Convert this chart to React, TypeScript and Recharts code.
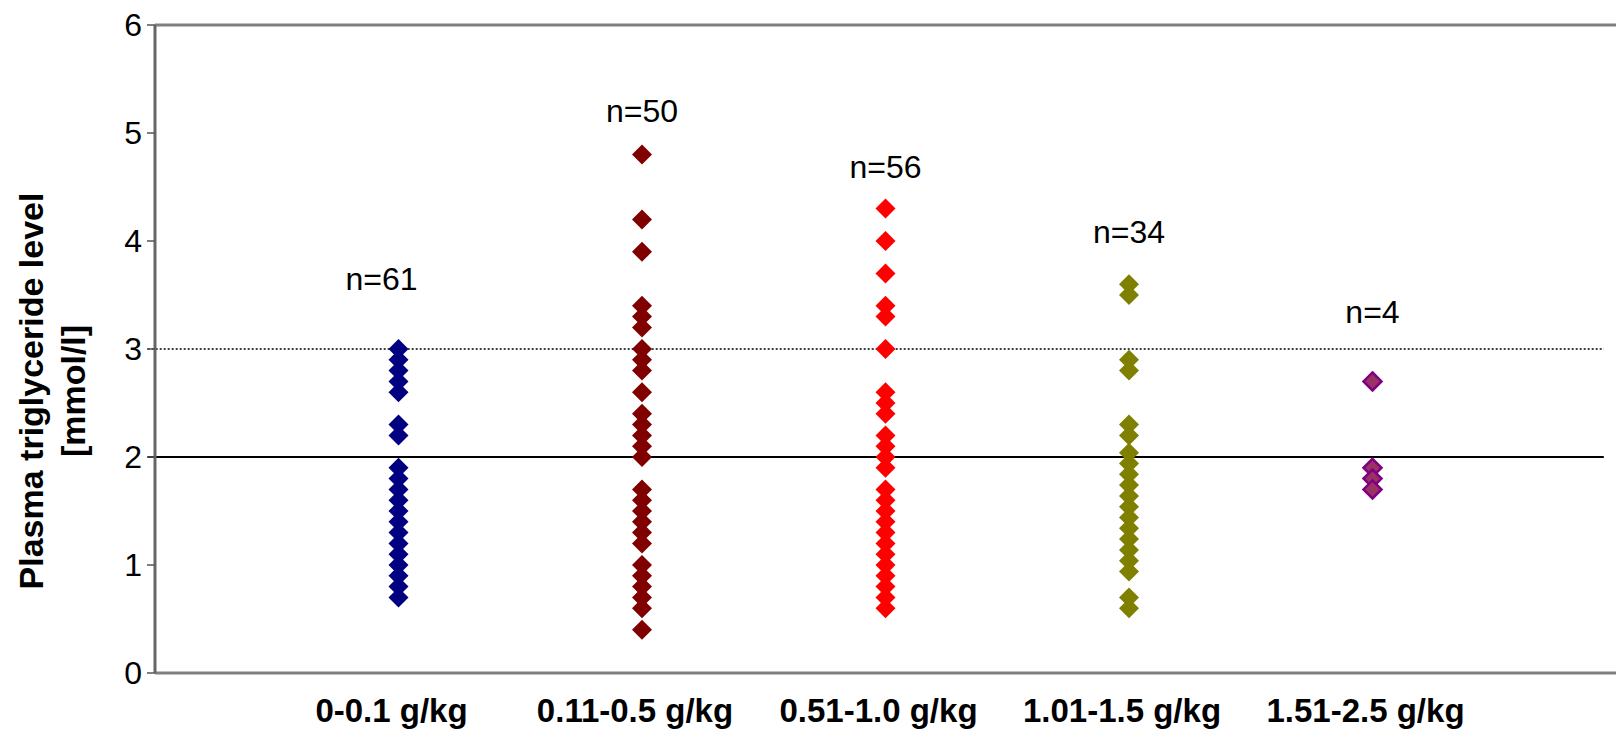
import {
  ScatterChart,
  Scatter,
  XAxis,
  YAxis,
  ReferenceLine,
  ReferenceDot,
} from 'recharts';

const categories = ['0-0.1 g/kg', '0.11-0.5 g/kg', '0.51-1.0 g/kg', '1.01-1.5 g/kg', '1.51-2.5 g/kg'];

const dose01 = [3.0, 2.9, 2.8, 2.7, 2.6, 2.3, 2.2, 1.9, 1.8, 1.7, 1.6, 1.5, 1.4, 1.3, 1.2, 1.1, 1.0, 0.9, 0.8, 0.7];
const dose05 = [4.8, 4.2, 3.9, 3.4, 3.3, 3.2, 3.0, 2.9, 2.8, 2.6, 2.4, 2.3, 2.2, 2.1, 2.0, 1.7, 1.6, 1.5, 1.4, 1.3, 1.2, 1.0, 0.9, 0.8, 0.7, 0.6, 0.4];
const dose10 = [4.3, 4.0, 3.7, 3.4, 3.3, 3.0, 2.6, 2.5, 2.4, 2.2, 2.1, 2.0, 1.9, 1.7, 1.6, 1.5, 1.4, 1.3, 1.2, 1.1, 1.0, 0.9, 0.8, 0.7, 0.6];
const dose15 = [3.6, 3.5, 2.9, 2.8, 2.3, 2.2, 2.04, 1.94, 1.84, 1.74, 1.64, 1.54, 1.44, 1.34, 1.24, 1.14, 1.04, 0.94, 0.7, 0.6];
const dose25 = [2.7, 1.9, 1.8, 1.7];

const counts = ['n=61', 'n=50', 'n=56', 'n=34', 'n=4'];
const countLabelY = [3.65, 5.21, 4.69, 4.09, 3.35];

const yTicks = [0, 1, 2, 3, 4, 5, 6];

const groups = [
  { values: dose01, fill: '#000080', stroke: '#000080' },
  { values: dose05, fill: '#800000', stroke: '#800000' },
  { values: dose10, fill: '#FF0000', stroke: '#FF0000' },
  { values: dose15, fill: '#808000', stroke: '#808000' },
  { values: dose25, fill: '#993366', stroke: '#800080' },
];

const FONT = '"Liberation Sans", Arial, sans-serif';

function diamond(fill: string, stroke: string, half: number, sw: number) {
  return (props: any) => {
    const { cx, cy } = props;
    if (cx == null || cy == null) return null;
    return (
      <polygon
        points={`${cx},${cy - half} ${cx + half},${cy} ${cx},${cy + half} ${cx - half},${cy}`}
        fill={fill}
        stroke={stroke}
        strokeWidth={sw}
      />
    );
  };
}

function YLabel() {
  return (
    <g fontFamily={FONT} fontWeight="bold" fontSize={34} fill="#000">
      <text transform="translate(43,391) rotate(-90)" textAnchor="middle">
        Plasma triglyceride level
      </text>
      <text transform="translate(85,391) rotate(-90)" textAnchor="middle">
        [mmol/l]
      </text>
    </g>
  );
}

export default function App() {
  return (
    <div style={{ width: 1616, height: 730, background: '#fff' }}>
      <style>{'body{margin:0}'}</style>
      <ScatterChart
        width={1616}
        height={730}
        margin={{ top: 25, right: 0, bottom: 0, left: 0 }}
      >
        <XAxis
          type="number"
          dataKey="x"
          domain={[0, 6]}
          ticks={[1, 2, 3, 4, 5]}
          tickFormatter={(v: number) => categories[v - 1]}
          height={57}
          axisLine={{ stroke: '#808080', strokeWidth: 3 }}
          tickLine={false}
          tickSize={6}
          tickMargin={20}
          tick={{ fill: '#000', fontSize: 33, fontWeight: 'bold', fontFamily: FONT, dx: -7 }}
          interval={0}
        />
        <YAxis
          type="number"
          dataKey="y"
          domain={[0, 6]}
          ticks={yTicks}
          width={155}
          axisLine={{ stroke: '#666666', strokeWidth: 3 }}
          tickLine={{ stroke: '#555555', strokeWidth: 1.5 }}
          tickSize={8}
          tickMargin={5}
          tick={{ fill: '#000', fontSize: 32, fontFamily: FONT }}
          label={{ content: () => <YLabel /> }}
        />
        <ReferenceLine y={6} stroke="#808080" strokeWidth={3} />
        <ReferenceLine
          segment={[{ x: -0.03, y: 3 }, { x: 5.95, y: 3 }]}
          stroke="#000"
          strokeWidth={1.5}
          strokeDasharray="2 2"
          ifOverflow="visible"
        />
        <ReferenceLine
          segment={[{ x: -0.03, y: 2 }, { x: 5.95, y: 2 }]}
          stroke="#000"
          strokeWidth={2}
          ifOverflow="visible"
        />
        {groups.map((g, i) => (
          <Scatter
            key={i}
            data={g.values.map((v) => ({ x: i + 1, y: v }))}
            shape={diamond(g.fill, g.stroke, i === 4 ? 9 : 10, i === 4 ? 2.5 : 0)}
            isAnimationActive={false}
          />
        ))}
        {counts.map((c, i) => (
          <ReferenceDot
            key={c}
            x={i === 0 ? 0.93 : i + 1}
            y={countLabelY[i]}
            r={1}
            fill="none"
            stroke="none"
            label={{ value: c, position: 'center', fill: '#000', fontSize: 32, fontFamily: FONT }}
          />
        ))}
      </ScatterChart>
    </div>
  );
}
